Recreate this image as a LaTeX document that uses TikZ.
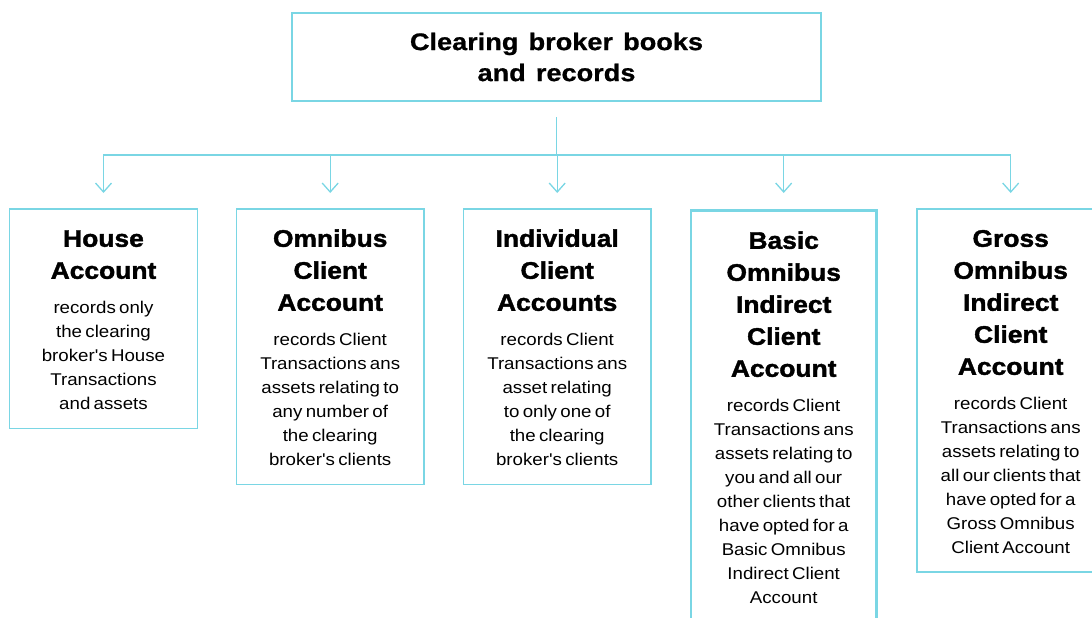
\documentclass[tikz,border=0pt]{standalone}
\usepackage{fontspec}
\usetikzlibrary{arrows.meta,calc}
\setmainfont{Liberation Sans}
\newfontfamily\headfam{Liberation Sans}[FakeStretch=1.1,WordSpace=1.3,BoldFeatures={FakeBold=1.6}]
\newfontfamily\titlefam{Liberation Sans}[FakeStretch=1.13,WordSpace=1.35,BoldFeatures={FakeBold=0.8}]
\newfontfamily\bodyfam{Liberation Sans}[FakeStretch=1.1,WordSpace=1.4]
\newcommand\headf{\headfam\bfseries\fontsize{24}{32}\selectfont}
\newcommand\bodyf{\bodyfam\fontsize{17}{24}\selectfont}
\newcommand\acctext[2]{{\headf\rule{0pt}{18pt}#1\par}\vskip 10.5pt{\bodyf #2\par}}
\setlength{\parindent}{0pt}
\definecolor{cy}{RGB}{122,214,228}
\begin{document}
\begin{tikzpicture}[x=1pt,y=-1pt,
  titlebox/.style={draw=cy,line width=1.3pt,minimum width=529pt,minimum height=88pt,
    outer sep=0pt,inner sep=0pt,align=center,
    font={\titlefam\bfseries\fontsize{24}{31}\selectfont}},
  acct/.style={draw=cy,line width=1.3pt,minimum width=187.7pt,anchor=north,outer sep=0pt,inner sep=0pt},
  txt/.style={anchor=north,inner sep=0pt,text width=182pt,align=center},
  conn/.style={draw=cy,line width=1.3pt},
  tip/.tip={Straight Barb[length=9pt,width=16pt]}]
\useasboundingbox (0,0) rectangle (1092,618);
\node[titlebox] (t) at (556.5,57) {Clearing broker books\\and records};
\node[acct,minimum height=219.3pt] (b1) at (103.5,209) {};
\node[acct,minimum height=275.7pt] (b2) at (330.2,209) {};
\node[acct,minimum height=275.7pt] (b3) at (557.2,209) {};
\node[acct,line width=2.7pt,minimum width=185.5pt,minimum height=430pt] (b4) at (783.7,210.7) {};
\node[acct,minimum height=363pt] (b5) at (1010.7,209) {};
\node[txt] (x1) at ($(b1.north)+(0,19.6)$) {\acctext{House\par Account}{records only\par the clearing\par broker's House\par Transactions\par and assets}};
\node[txt] (x2) at ($(b2.north)+(0,19.6)$) {\acctext{Omnibus\par Client\par Account}{records Client\par Transactions ans\par assets relating to\par any number of\par the clearing\par broker's clients}};
\node[txt] (x3) at ($(b3.north)+(0,19.6)$) {\acctext{Individual\par Client\par Accounts}{records Client\par Transactions ans\par asset relating\par to only one of\par the clearing\par broker's clients}};
\node[txt] (x4) at ($(b4.north)+(0,19.9)$) {\acctext{Basic\par Omnibus\par Indirect\par Client\par Account}{records Client\par Transactions ans\par assets relating to\par you and all our\par other clients that\par have opted for a\par Basic Omnibus\par Indirect Client\par Account}};
\node[txt] (x5) at ($(b5.north)+(0,19.6)$) {\acctext{Gross\par Omnibus\par Indirect\par Client\par Account}{records Client\par Transactions ans\par assets relating to\par all our clients that\par have opted for a\par Gross Omnibus\par Client Account}};
\coordinate (s) at ($(t.south)+(0,16)$);
\coordinate (bus) at ($(t.south)+(0,54)$);
\draw[conn] (s) -- (bus);
\draw[conn,{tip}-{tip}] ($(b1.north|-bus)+(0,38)$) -- (b1.north|-bus) -- (b5.north|-bus) -- ($(b5.north|-bus)+(0,38)$);
\foreach \i in {2,3,4}
  \draw[conn,-{tip}] (b\i.north|-bus) -- ($(b\i.north|-bus)+(0,38)$);
\end{tikzpicture}
\end{document}
